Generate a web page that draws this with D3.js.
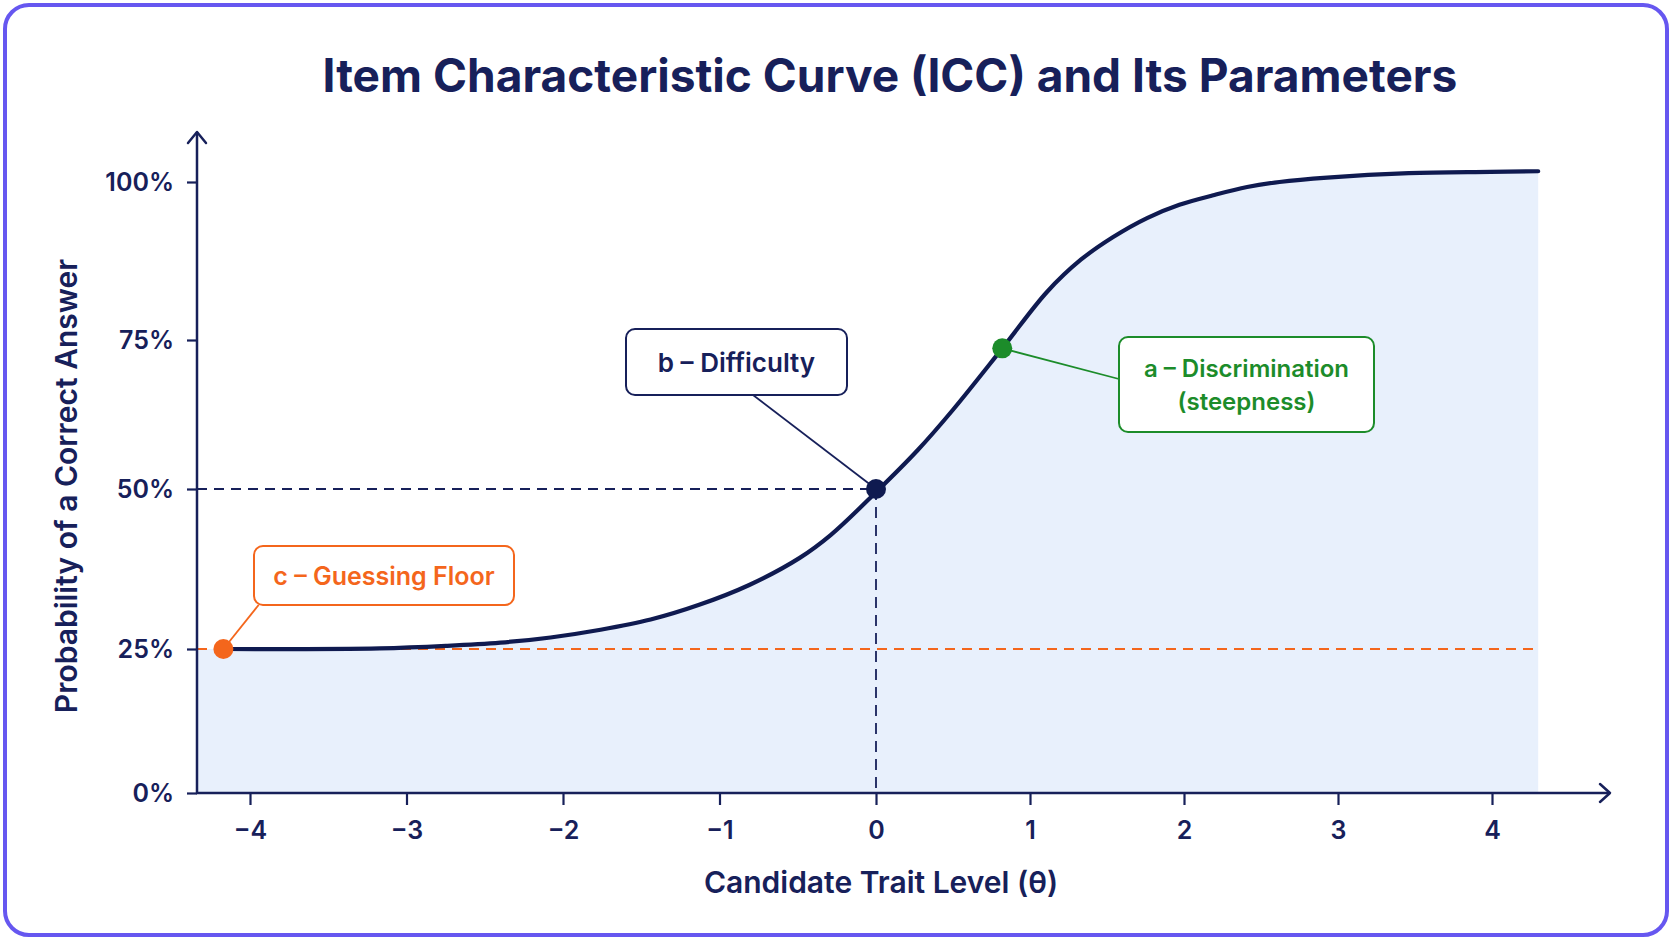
<!DOCTYPE html>
<html>
<head>
<meta charset="utf-8">
<script src="https://cdn.jsdelivr.net/npm/d3@7/dist/d3.min.js"></script>
<style>
  html, body { margin: 0; padding: 0; background: #ffffff; }
  svg { display: block; font-family: Inter, "Noto Sans", sans-serif; }
</style>
</head>
<body>
<svg id="chart" width="1672" height="941"></svg>
<script>
// ---------------- data ----------------
const chartTitle = "Item Characteristic Curve (ICC) and Its Parameters";
const xAxisTitle = "Candidate Trait Level (θ)";
const yAxisTitle = "Probability of a Correct Answer";

const xTickValues = [-4, -3, -2, -1, 0, 1, 2, 3, 4];
const yTickValues = [0, 0.25, 0.5, 0.75, 1];

// ICC (theta, probability)
const curveTheta = [-4.17, -3.17, -2.74, -2.40, -2.08, -1.76, -1.44, -1.13, -0.81, -0.49, -0.29, 0, 0.27, 0.5, 0.82, 1.11, 1.33, 1.54, 1.76, 1.97, 2.19, 2.41, 2.62, 2.93, 3.46, 3.99, 4.30];
const curveProb  = [0.25, 0.251, 0.255, 0.260, 0.268, 0.280, 0.296, 0.319, 0.350, 0.392, 0.428, 0.495, 0.565, 0.633, 0.736, 0.826, 0.877, 0.913, 0.943, 0.964, 0.979, 0.992, 1.0, 1.007, 1.014, 1.016, 1.017];

// parameter markers
const paramTheta = [-4.17, 0, 0.82];
const paramProb  = [0.25, 0.5, 0.736];
const paramLabels = [["c – Guessing Floor"], ["b – Difficulty"], ["a – Discrimination", "(steepness)"]];

// ---------------- styles ----------------
const NAVY = "#17205a";
const CURVE = "#0f1a50";
const GREEN = "#1c8c2a";
const ORANGE = "#f4661c";
const FILL = "#e8f0fc";
const BORDER = "#6657f0";

const svg = d3.select("#chart");

// card border
svg.append("rect")
  .attr("x", 5).attr("y", 5).attr("width", 1662).attr("height", 930)
  .attr("rx", 24).attr("fill", "#ffffff")
  .attr("stroke", BORDER).attr("stroke-width", 4);

// title
const title = svg.append("text")
  .attr("x", 890).attr("y", 92)
  .attr("text-anchor", "middle")
  .attr("font-size", 46).attr("font-weight", 700)
  .attr("fill", NAVY)
  .text(chartTitle);
{
  const w = title.node().getComputedTextLength();
  title.attr("font-size", 46 * 1135 / w);
}

// scales
const x = d3.scaleLinear().domain([-4, 0, 4]).range([250, 876, 1492]);
const y = d3.scaleLinear().domain(yTickValues).range([793, 649, 489, 340, 182]);

const plotLeftX = 197;
const thetaLeft = x.invert(plotLeftX);
const arrowRightX = 1610;
const arrowTopY = 132;
const smooth = d3.curveCatmullRom.alpha(0.5);

// area fill
const areaData = [{t: thetaLeft, p: curveProb[0]}].concat(curveTheta.map((t, i) => ({t, p: curveProb[i]})));
svg.append("path")
  .datum(areaData)
  .attr("fill", FILL)
  .attr("d", d3.area().x(d => x(d.t)).y0(y(0)).y1(d => y(d.p)).curve(smooth));

// guide lines
const g = svg.append("g");
g.append("line")
  .attr("x1", plotLeftX).attr("x2", x(curveTheta[curveTheta.length - 1]))
  .attr("y1", y(paramProb[0])).attr("y2", y(paramProb[0]))
  .attr("stroke", ORANGE).attr("stroke-width", 2).attr("stroke-dasharray", "10,7");
g.append("line")
  .attr("x1", plotLeftX).attr("x2", x(paramTheta[1]))
  .attr("y1", y(paramProb[1])).attr("y2", y(paramProb[1]))
  .attr("stroke", NAVY).attr("stroke-width", 1.8).attr("stroke-dasharray", "10,7");
g.append("line")
  .attr("x1", x(paramTheta[1])).attr("x2", x(paramTheta[1]))
  .attr("y1", y(paramProb[1])).attr("y2", y(0))
  .attr("stroke", NAVY).attr("stroke-width", 1.8).attr("stroke-dasharray", "11,7");

// axes
const yAxis = svg.append("g")
  .attr("transform", `translate(${plotLeftX},0)`)
  .call(d3.axisLeft(y).tickValues(yTickValues).tickFormat(d3.format(".0%")).tickSize(10).tickPadding(13));
const xAxis = svg.append("g")
  .attr("transform", `translate(0,${y(0)})`)
  .call(d3.axisBottom(x).tickValues(xTickValues).tickFormat(d3.format("d")).tickSize(12).tickPadding(16));
[yAxis, xAxis].forEach(a => {
  a.select(".domain").remove();
  a.selectAll(".tick line").attr("stroke", NAVY).attr("stroke-width", 2.2);
  a.selectAll(".tick text").attr("fill", NAVY).attr("font-size", 25).attr("font-weight", 600)
    .attr("font-family", "Inter, 'Noto Sans', sans-serif");
});

// axis lines with arrows
svg.append("line").attr("x1", plotLeftX).attr("x2", plotLeftX).attr("y1", y(0)).attr("y2", arrowTopY)
  .attr("stroke", NAVY).attr("stroke-width", 2.5);
svg.append("path").attr("d", `M${plotLeftX - 9},${arrowTopY + 11}L${plotLeftX},${arrowTopY}L${plotLeftX + 9},${arrowTopY + 11}`)
  .attr("fill", "none").attr("stroke", NAVY).attr("stroke-width", 2.5).attr("stroke-linecap", "round").attr("stroke-linejoin", "round");
svg.append("line").attr("x1", plotLeftX - 1).attr("x2", arrowRightX).attr("y1", y(0)).attr("y2", y(0))
  .attr("stroke", NAVY).attr("stroke-width", 2.5);
svg.append("path").attr("d", `M${arrowRightX - 10},${y(0) - 9}L${arrowRightX},${y(0)}L${arrowRightX - 10},${y(0) + 9}`)
  .attr("fill", "none").attr("stroke", NAVY).attr("stroke-width", 2.5).attr("stroke-linecap", "round").attr("stroke-linejoin", "round");

// curve
svg.append("path")
  .datum(curveTheta.map((t, i) => ({t, p: curveProb[i]})))
  .attr("fill", "none").attr("stroke", CURVE).attr("stroke-width", 4.2).attr("stroke-linecap", "round")
  .attr("d", d3.line().x(d => x(d.t)).y(d => y(d.p)).curve(smooth));

// axis titles
svg.append("text")
  .attr("x", 881).attr("y", 893).attr("text-anchor", "middle")
  .attr("font-size", 30).attr("font-weight", 600).attr("fill", NAVY)
  .text(xAxisTitle);
svg.append("text")
  .attr("transform", "translate(77,486) rotate(-90)").attr("text-anchor", "middle")
  .attr("font-size", 30).attr("font-weight", 600).attr("fill", NAVY)
  .text(yAxisTitle);

// annotation boxes (layout positions)
const boxes = [
  {i: 0, color: ORANGE, bx: 254, by: 546, bw: 260, bh: 59, lx: 258.6, ly: 605, base: 585, fs: 25},
  {i: 1, color: NAVY,   bx: 626, by: 329, bw: 221, bh: 66, lx: 753,   ly: 395, base: 372, fs: 26},
  {i: 2, color: GREEN,  bx: 1119, by: 337, bw: 255, bh: 95, lx: 1119, ly: 379, base: 377, fs: 24}
];
boxes.forEach(b => {
  const px = x(paramTheta[b.i]), py = y(paramProb[b.i]);
  svg.append("line").attr("x1", px).attr("y1", py).attr("x2", b.lx).attr("y2", b.ly)
    .attr("stroke", b.color).attr("stroke-width", 1.8);
  svg.append("rect").attr("x", b.bx).attr("y", b.by).attr("width", b.bw).attr("height", b.bh)
    .attr("rx", 9).attr("fill", "#ffffff").attr("stroke", b.color).attr("stroke-width", 2);
  const t = svg.append("text").attr("x", b.bx + b.bw / 2).attr("y", b.base)
    .attr("text-anchor", "middle").attr("font-size", b.fs).attr("font-weight", 600).attr("fill", b.color);
  paramLabels[b.i].forEach((line, k) => {
    t.append("tspan").attr("x", b.bx + b.bw / 2).attr("dy", k === 0 ? 0 : 33).text(line);
  });
});

// markers
const markerColors = [ORANGE, CURVE, GREEN];
svg.selectAll("circle.param")
  .data(paramTheta.map((t, i) => ({t, p: paramProb[i], c: markerColors[i]})))
  .join("circle").attr("class", "param")
  .attr("cx", d => x(d.t)).attr("cy", d => y(d.p)).attr("r", 10)
  .attr("fill", d => d.c);
</script>
</body>
</html>
